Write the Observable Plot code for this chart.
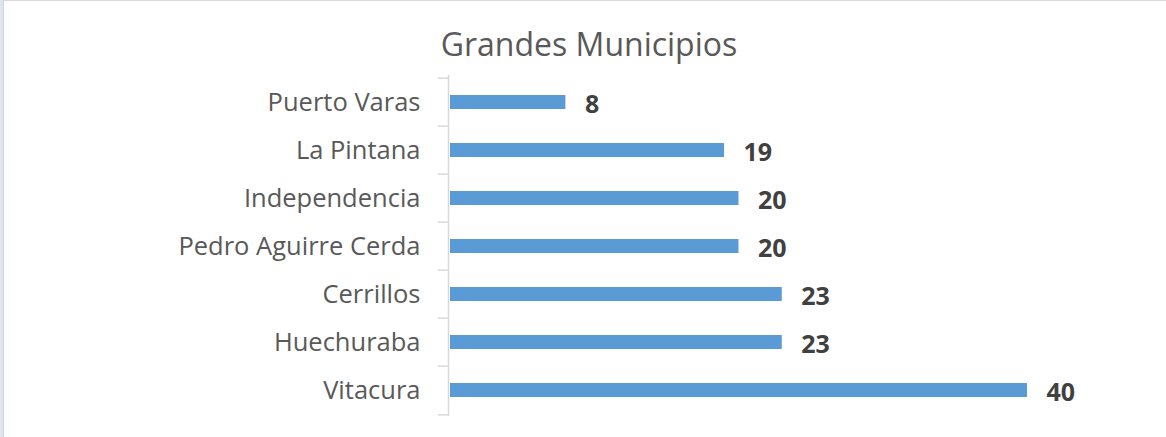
<!DOCTYPE html>
<html>
<head>
<meta charset="utf-8">
<script src="https://cdn.jsdelivr.net/npm/d3@7"></script>
<script src="https://cdn.jsdelivr.net/npm/@observablehq/plot@0.6"></script>
<style>
  html, body { margin: 0; padding: 0; background: #fff; }
  #wrap { position: relative; width: 1166px; height: 437px; overflow: hidden; }
  #edge { position: absolute; left: 0; top: 0; width: 3px; height: 437px; background: #dce6f2; }
  #frame { position: absolute; left: 3px; top: 0; width: 1200px; height: 500px; border-left: 1px solid #d9d0d0; border-top: 1px solid #d9d9d9; box-sizing: border-box; }
  #title { position: absolute; left: 0; width: 1178px; top: 22px; text-align: center; font-family: "Open Sans", sans-serif; font-size: 32px; line-height: 1.36; color: #595959; }
  #chart { position: absolute; left: 0; top: 0; }
</style>
</head>
<body>
<div id="wrap">
  <div id="edge"></div>
  <div id="frame"></div>
  <div id="chart"></div>
  <div id="title">Grandes Municipios</div>
</div>
<script>
const categories = ["Puerto Varas", "La Pintana", "Independencia", "Pedro Aguirre Cerda", "Cerrillos", "Huechuraba", "Vitacura"];
const values = [8, 19, 20, 20, 23, 23, 40];

const data = categories.map((c, i) => ({category: c, value: values[i]}));
const bandH = (416 - 75) / categories.length;

const chart = Plot.plot({
  width: 1166,
  height: 437,
  marginTop: 75,
  marginBottom: 21,
  marginLeft: 450,
  marginRight: 139,
  style: {background: "transparent", fontFamily: "Open Sans, sans-serif"},
  x: {domain: [0, 40], axis: null},
  y: {domain: categories, padding: 0, axis: null, label: null},
  marks: [
    Plot.barX(data, {x: "value", y: "category", fill: "#5b9bd5", insetTop: 17, insetBottom: 17}),
    Plot.text(data, {x: "value", y: "category", text: d => String(d.value), textAnchor: "start", dx: 19, dy: 2, fontSize: 25, fontWeight: "bold", fill: "#404040"}),
    Plot.ruleX([0], {dx: -2, stroke: "#d9d9d9", strokeWidth: 1.5}),
    Plot.axisY({tickSize: 10, text: null, label: null, dy: -bandH / 2, dx: -2, stroke: "#d9d9d9", strokeWidth: 1.5}),
    Plot.axisY({ticks: [categories[categories.length - 1]], tickSize: 10, text: null, label: null, dy: bandH / 2, dx: -2, stroke: "#d9d9d9", strokeWidth: 1.5}),
    Plot.axisY({tickSize: 0, tickPadding: 30, label: null, fontSize: 25.5, fill: "#595959", color: "#595959"})
  ]
});
document.getElementById("chart").appendChild(chart);
</script>
</body>
</html>
